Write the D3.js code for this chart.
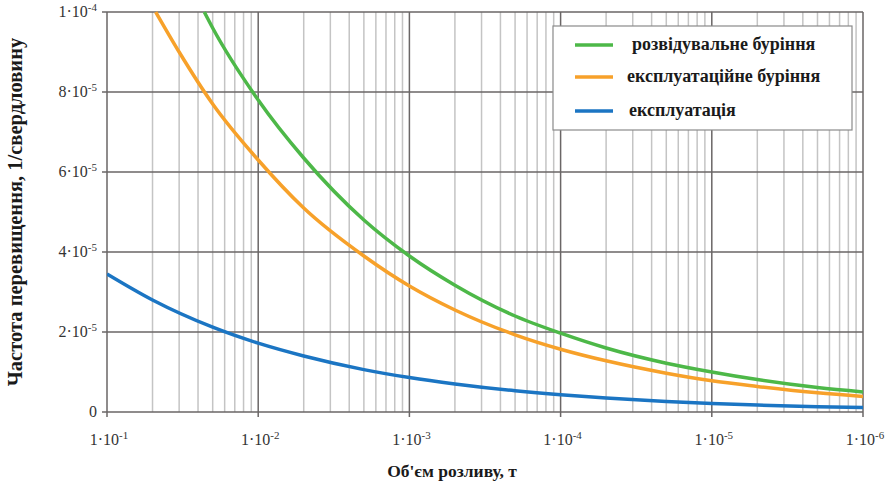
<!DOCTYPE html>
<html>
<head>
<meta charset="utf-8">
<script src="https://cdn.jsdelivr.net/npm/d3@7"></script>
<style>
  body { margin: 0; background: #fff; }
  svg text { font-family: "Liberation Serif", "Times New Roman", serif; }
</style>
</head>
<body>
<div id="chart"></div>
<script>
// spill volume points (log axis) and exceedance frequency per series
let volumes = [10, 20, 50, 100, 200, 500, 1000, 2000, 5000, 1e4, 2e4, 5e4, 1e5, 2e5, 5e5, 1e6]
let exploreVolumes = [44, 50, 100, 200, 500, 1000, 2000, 5000, 1e4, 2e4, 5e4, 1e5, 2e5, 5e5, 1e6]
let exploreValues = [1.0e-4, 9.6e-5, 7.8e-5, 6.35e-5, 4.8e-5, 3.9e-5, 3.17e-5, 2.4e-5, 1.97e-5, 1.6e-5, 1.22e-5, 1.0e-5, 8.1e-6, 6.1e-6, 5.0e-6]
let prodDrillVolumes = [21, 30, 50, 100, 200, 500, 1000, 2000, 5000, 1e4, 2e4, 5e4, 1e5, 2e5, 5e5, 1e6]
let prodDrillValues = [1.0e-4, 9.0e-5, 7.7e-5, 6.3e-5, 5.1e-5, 3.9e-5, 3.15e-5, 2.55e-5, 1.93e-5, 1.57e-5, 1.28e-5, 9.7e-6, 7.8e-6, 6.4e-6, 4.8e-6, 3.9e-6]
let productionValues = [3.45e-5, 2.8e-5, 2.12e-5, 1.72e-5, 1.4e-5, 1.06e-5, 8.6e-6, 7.0e-6, 5.3e-6, 4.3e-6, 3.5e-6, 2.65e-6, 2.15e-6, 1.75e-6, 1.33e-6, 1.1e-6]

let seriesNames = ["розвідувальне буріння", "експлуатаційне буріння", "експлуатація"]
let seriesColors = ["#4db848", "#f7a12a", "#1b75c3"]

let xTicks = [1e1, 1e2, 1e3, 1e4, 1e5, 1e6]
let xTickExp = ["-1", "-2", "-3", "-4", "-5", "-6"]
let yTicks = [0, 2e-5, 4e-5, 6e-5, 8e-5, 1e-4]
let yTickMant = ["0", "2", "4", "6", "8", "1"]
let yTickExp = ["", "-5", "-5", "-5", "-5", "-4"]

let width = 893;
let height = 485;
let margins = { top: 12, right: 30, bottom: 73, left: 107 };
let visWidth = width - margins.left - margins.right;
let visHeight = height - margins.top - margins.bottom;
const serif = "'Liberation Serif', 'Times New Roman', serif"

let svg = d3.select("#chart").append("svg").attr("width", width).attr("height", height)
let viewport = svg.append("g").attr("transform", "translate(" + margins.left + "," + margins.top + ")")

const xScale = d3.scaleLog().domain([1e1, 1e6]).range([0, visWidth])
const yScale = d3.scaleLinear().domain([0, 1e-4]).range([visHeight, 0])

// minor vertical grid
let minor = []
for (let d = 1; d < 6; d++) for (let m = 2; m <= 9; m++) minor.push(m * Math.pow(10, d))
viewport.append("g").selectAll("line").data(minor).enter().append("line")
    .attr("x1", d => xScale(d)).attr("x2", d => xScale(d))
    .attr("y1", 0).attr("y2", visHeight)
    .attr("stroke", "#c4c4c4").attr("stroke-width", 1.5)

// major grid
viewport.append("g").selectAll("line").data(xTicks).enter().append("line")
    .attr("x1", d => xScale(d)).attr("x2", d => xScale(d))
    .attr("y1", 0).attr("y2", visHeight + 5)
    .attr("stroke", "#6a6666").attr("stroke-width", 1.5)
viewport.append("g").selectAll("line").data(yTicks).enter().append("line")
    .attr("x1", -5).attr("x2", visWidth)
    .attr("y1", d => yScale(d)).attr("y2", d => yScale(d))
    .attr("stroke", "#6a6666").attr("stroke-width", 1.5)

// tick labels
let xl = viewport.append("g").selectAll("text").data(xTicks).enter().append("text")
    .attr("x", d => xScale(d) + 2).attr("y", visHeight + 33)
    .attr("text-anchor", "middle").attr("fill", "#333")
    .style("font-family", serif).style("font-size", "16px")
xl.append("tspan").text("1·10")
xl.append("tspan").attr("dy", -6).style("font-size", "11px").text((d, i) => xTickExp[i])

let yl = viewport.append("g").selectAll("text").data(yTicks).enter().append("text")
    .attr("x", -10).attr("y", d => yScale(d) + 5)
    .attr("text-anchor", "end").attr("fill", "#333")
    .style("font-family", serif).style("font-size", "16px")
yl.append("tspan").text((d, i) => i == 0 ? "0" : yTickMant[i] + "·10")
yl.append("tspan").attr("dy", -6).style("font-size", "11px").text((d, i) => yTickExp[i])

// curves
svg.append("defs").append("clipPath").attr("id", "clip").append("rect")
    .attr("x", 0).attr("y", -2).attr("width", visWidth).attr("height", visHeight + 4)

let seriesData = [
    exploreVolumes.map((v, i) => [v, exploreValues[i]]),
    prodDrillVolumes.map((v, i) => [v, prodDrillValues[i]]),
    volumes.map((v, i) => [v, productionValues[i]])
]
const line = d3.line().x(d => xScale(d[0])).y(d => yScale(d[1])).curve(d3.curveMonotoneX)

viewport.append("g").attr("clip-path", "url(#clip)")
    .selectAll("path").data(seriesData).enter().append("path")
    .attr("d", line).attr("fill", "none")
    .attr("stroke", (d, i) => seriesColors[i]).attr("stroke-width", 3.5)

// axis titles
svg.append("text").attr("x", 452).attr("y", 477).attr("text-anchor", "middle")
    .style("font-family", serif).style("font-size", "17.5px").style("font-weight", "bold").attr("fill", "#1a1a1a")
    .text("Об'єм розливу, т")
svg.append("text").attr("transform", "translate(22,212) rotate(-90)").attr("text-anchor", "middle")
    .style("font-family", serif).style("font-size", "20.5px").style("font-weight", "bold").attr("fill", "#1a1a1a")
    .text("Частота перевищення, 1/свердловину")

// legend
let legend = svg.append("g").attr("transform", "translate(553,26)")
legend.append("rect").attr("width", 299).attr("height", 104)
    .attr("fill", "#fff").attr("stroke", "#8a8a8a").attr("stroke-width", 1.2)
let legendY = [19, 51, 85]
let legendTextX = [79, 74, 76]
let item = legend.selectAll(".legend-item").data(seriesNames).enter().append("g").attr("class", "legend-item")
item.append("line").attr("x1", 22).attr("x2", 60)
    .attr("y1", (d, i) => legendY[i]).attr("y2", (d, i) => legendY[i])
    .attr("stroke", (d, i) => seriesColors[i]).attr("stroke-width", 3.5)
item.append("text").attr("x", (d, i) => legendTextX[i]).attr("y", (d, i) => legendY[i] + 5)
    .style("font-family", serif).style("font-size", "18px").style("font-weight", "bold").attr("fill", "#1a1a1a")
    .text(d => d)
</script>
</body>
</html>
